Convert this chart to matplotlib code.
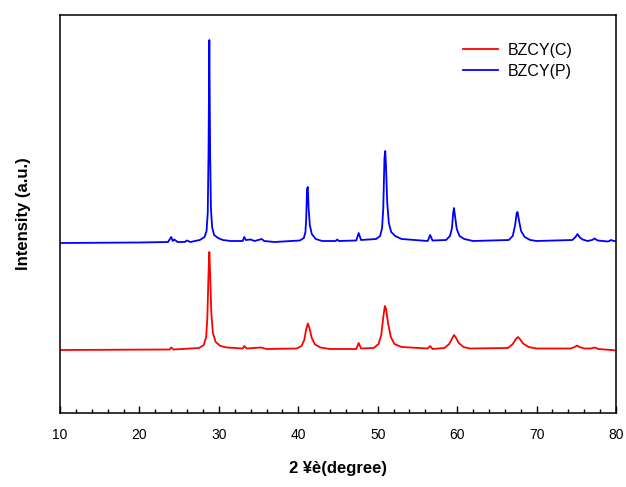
import matplotlib.pyplot as plt
from matplotlib.ticker import MultipleLocator

plt.rcParams['font.family'] = ['Liberation Sans', 'DejaVu Sans']

# BZCY(P) pattern, vertices (2theta, intensity a.u.)
two_theta_p = [10, 20, 23.6, 24.0, 24.2, 24.4, 24.8, 25.7, 26.0, 26.4, 27.6, 28.2, 28.45, 28.6,
               28.7, 28.8, 28.9, 29.0, 29.15, 29.4, 29.9, 30.5, 31.5, 33.0, 33.2, 33.4, 34.0,
               34.5, 35.4, 35.7, 37, 40.2, 40.7, 40.9, 41.0, 41.1, 41.2, 41.3, 41.45, 41.7,
               41.9, 42.2, 43, 44.7, 44.9, 45.1, 47.3, 47.6, 47.9, 49.8, 50.3, 50.55, 50.7,
               50.85, 50.95, 51.05, 51.2, 51.4, 51.7, 52.2, 53, 56.3, 56.6, 56.9, 58.6, 59.1,
               59.35, 59.5, 59.6, 59.75, 59.95, 60.3, 60.9, 62, 66.5, 67.0, 67.3, 67.5, 67.6,
               67.8, 68.05, 68.5, 69.2, 70, 74.5, 74.9, 75.15, 75.4, 75.8, 76.4, 77.0, 77.3,
               77.7, 79, 79.4, 79.7, 80]
int_p = [170, 170.5, 171, 176, 172, 173.5, 171, 171, 172.5, 171, 173, 176, 182, 200,
         260, 373, 260, 205, 186, 178, 175, 173, 172, 172, 176, 173, 173.5,
         172, 174, 172, 171, 172.5, 175, 181, 195, 224, 226, 205, 188, 179,
         177, 174, 172, 172, 173.5, 172, 172.5, 180, 173, 174, 177, 185, 205,
         255, 262, 245, 210, 190, 181, 177, 174, 172, 178, 172.5, 173, 177,
         185, 200, 205, 196, 184, 177, 174, 172, 173, 177, 188, 200, 201,
         192, 182, 176, 173, 172, 173, 176, 179, 176, 173.5, 172, 173, 174.5,
         172.5, 171.5, 173, 172, 172]

# BZCY(C) pattern
two_theta_c = [10, 23.8, 24.0, 24.3, 27.5, 28.1, 28.4, 28.55, 28.7, 28.8, 28.9, 29.05, 29.25,
               29.6, 30.2, 31, 33.0, 33.2, 33.5, 35.3, 36, 39.8, 40.4, 40.75, 41.0, 41.2, 41.4,
               41.7, 42.1, 42.8, 44, 47.3, 47.6, 47.9, 49.5, 50.1, 50.45, 50.7, 50.9, 51.05,
               51.3, 51.65, 52.1, 53, 56.3, 56.6, 56.9, 58.4, 59.0, 59.4, 59.6, 59.8, 60.2,
               60.8, 61.6, 66.4, 67.0, 67.4, 67.65, 67.9, 68.3, 69.0, 70, 74.3, 74.8, 75.1,
               75.4, 76, 76.8, 77.3, 77.8, 79.4, 80]
int_c = [63, 63.5, 65.5, 63.5, 65, 68, 76, 95, 140, 161, 140, 100, 80,
         71, 67, 65.5, 64.5, 67, 64.5, 65.5, 64, 64.5, 67, 73, 84, 89.5, 85,
         75, 68.5, 65.5, 64, 64, 70, 64.5, 65, 69, 78, 96, 107, 104,
         90, 76, 69, 66, 64.5, 67, 64, 65, 69, 75, 78, 76, 70,
         66, 64.5, 65, 69, 74, 76, 74, 69.5, 66, 64.5, 64.5, 66, 67.5,
         66, 64.5, 64.5, 65.5, 64, 63, 62.5]

fig = plt.figure(figsize=(6.26, 4.87), dpi=100)
ax = fig.add_axes([60 / 626, 74 / 487, 556 / 626, 398 / 487])

ax.plot(two_theta_c, int_c, color='#ff0000', lw=1.3, label='BZCY(C)')
ax.plot(two_theta_p, int_p, color='#0000ff', lw=1.3, label='BZCY(P)')

ax.set_xlim(10, 80)
ax.set_ylim(0, 398)
ax.xaxis.set_major_locator(MultipleLocator(10))
ax.xaxis.set_minor_locator(MultipleLocator(2))
ax.tick_params(axis='x', which='major', direction='in', length=5, width=1, labelsize=10, pad=11)
ax.tick_params(axis='x', which='minor', direction='in', length=3, width=1)
ax.set_yticks([])
for s in ax.spines.values():
    s.set_linewidth(1.1)

ax.set_xlabel('2 ¥è(degree)', fontsize=12, fontweight='bold')
ax.xaxis.set_label_coords(0.5, -0.12)
ax.set_ylabel('Intensity (a.u.)', fontsize=12, fontweight='bold')
ax.yaxis.set_label_coords(-0.052, 0.5)

ax.legend(frameon=False, loc='upper left', bbox_to_anchor=(455 / 626, 1 - 35 / 487),
          bbox_transform=fig.transFigure, borderpad=0, fontsize=11.5,
          handlelength=2.2, handletextpad=0.6, labelspacing=0.35)

fig.savefig('out.png', dpi=100)
